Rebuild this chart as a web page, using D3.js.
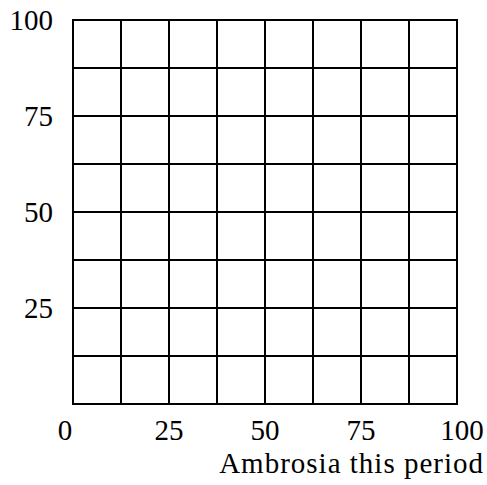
<!DOCTYPE html>
<html>
<head>
<meta charset="utf-8">
<script src="https://cdn.jsdelivr.net/npm/d3@7"></script>
</head>
<body style="margin:0">
<svg id="chart" width="487" height="485"></svg>
<script>
// Axis domains and tick labels
const xDomain = [0, 100];
const yDomain = [0, 100];
const xTickValues = [0, 25, 50, 75, 100];
const yTickValues = [25, 50, 75, 100];
// Grid lines every 12.5 units on both axes
const gridValues = [0, 12.5, 25, 37.5, 50, 62.5, 75, 87.5, 100];
const xTitle = "Ambrosia this period";

const svg = d3.select("#chart");
const margin = { left: 73, right: 30, top: 20, bottom: 81 };
const W = 487, H = 485;
const fontSize = 29;

const x = d3.scaleLinear().domain(xDomain).range([margin.left, W - margin.right]);
const y = d3.scaleLinear().domain(yDomain).range([H - margin.bottom, margin.top]);

const grid = svg.append("g")
  .attr("stroke", "#000")
  .attr("stroke-width", 2)
  .attr("fill", "none");

grid.selectAll("line.v").data(gridValues).join("line")
  .attr("class", "v")
  .attr("x1", d => x(d)).attr("x2", d => x(d))
  .attr("y1", y(yDomain[0]) + 1).attr("y2", y(yDomain[1]) - 1);

grid.selectAll("line.h").data(gridValues).join("line")
  .attr("class", "h")
  .attr("y1", d => y(d)).attr("y2", d => y(d))
  .attr("x1", x(xDomain[0]) - 1).attr("x2", x(xDomain[1]) + 1);

// x tick labels; the end labels are nudged outward off the frame
svg.append("g").selectAll("text").data(xTickValues).join("text")
  .attr("x", d => x(d))
  .attr("dx", d => d === xDomain[0] ? -8 : d === xDomain[1] ? 5 : 0)
  .attr("y", 440)
  .attr("font-size", fontSize)
  .attr("text-anchor", "middle")
  .style("font-family", '"Liberation Serif"')
  .text(d => d);

// y tick labels
svg.append("g").selectAll("text").data(yTickValues).join("text")
  .attr("x", x(xDomain[0]) - 20)
  .attr("y", d => y(d))
  .attr("dy", "0.34em")
  .attr("font-size", fontSize)
  .attr("text-anchor", "end")
  .style("font-family", '"Liberation Serif"')
  .text(d => d);

// x axis title, right-aligned under the axis
svg.append("text")
  .attr("x", 484)
  .attr("y", 473)
  .attr("font-size", fontSize)
  .attr("text-anchor", "end")
  .attr("letter-spacing", 1)
  .style("font-family", '"Liberation Serif"')
  .text(xTitle);
</script>
</body>
</html>
